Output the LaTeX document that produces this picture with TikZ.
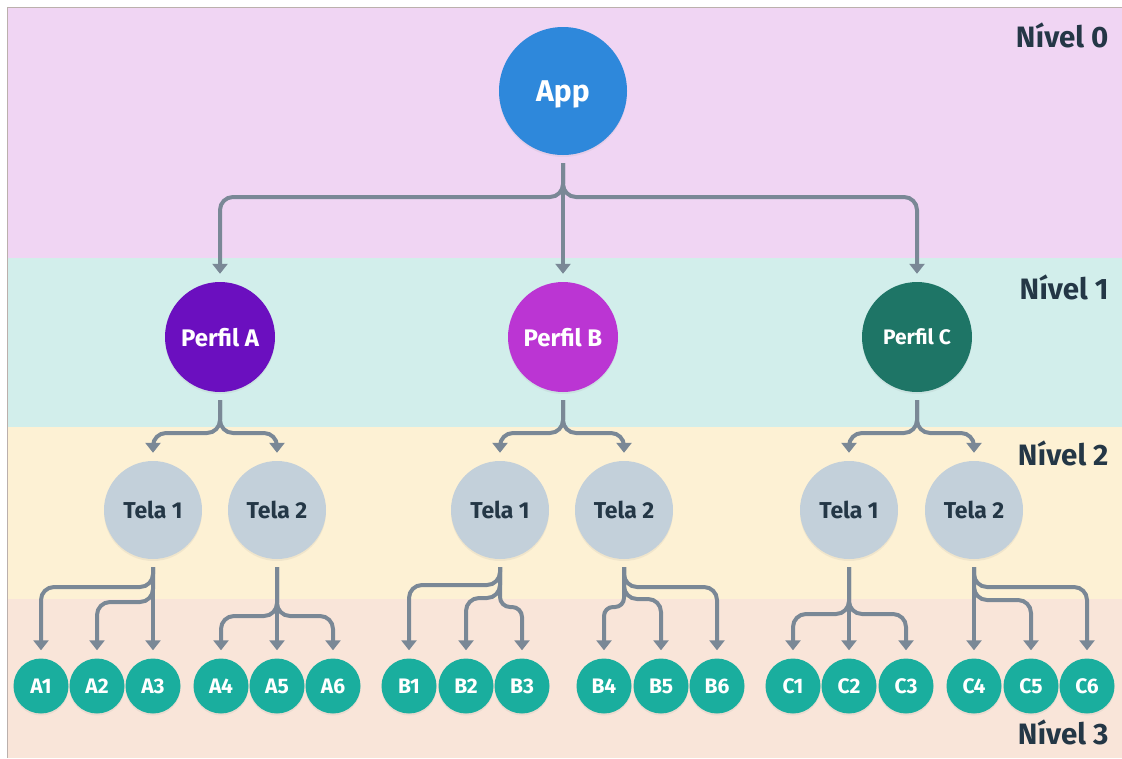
\documentclass[tikz,border=0pt]{standalone}
\usepackage{fontspec}
\setmainfont{Fira Sans}
\usetikzlibrary{arrows.meta,shadows}

\definecolor{bandzero}{HTML}{F0D5F3}
\definecolor{bandone}{HTML}{D2EEEB}
\definecolor{bandtwo}{HTML}{FDF1D4}
\definecolor{bandthree}{HTML}{F9E5D9}
\definecolor{framegray}{HTML}{BBB0AC}
\definecolor{appblue}{HTML}{2E88DB}
\definecolor{perfila}{HTML}{6B0FBF}
\definecolor{perfilb}{HTML}{BB35D3}
\definecolor{perfilc}{HTML}{1E7566}
\definecolor{telagray}{HTML}{C3D0DA}
\definecolor{leafteal}{HTML}{1AAE9E}
\definecolor{linkgray}{HTML}{7A8896}
\definecolor{textdark}{HTML}{243746}

\newcommand{\fsz}[1]{\fontsize{#1}{#1}\selectfont}

\begin{document}
\begin{tikzpicture}[x=1pt,y=-1pt,
	bubble/.style={circle,inner sep=0pt,text=white,text depth=0pt,
		drop shadow={opacity=0.10,shadow xshift=0pt,shadow yshift=-2pt}},
	perfil/.style={bubble,minimum size=110pt,font=\bfseries\fsz{24}},
	tela/.style={bubble,fill=telagray,minimum size=98pt,text=textdark,font=\bfseries\fsz{23}},
	leaf/.style={bubble,fill=leafteal,minimum size=55pt,font=\bfseries\fsz{21}},
	nivel/.style={anchor=base east,text=textdark,font=\bfseries\fsz{29.5}},
	link/.style={draw=linkgray,line width=4pt,rounded corners=13pt,
		-{Triangle[width=15pt,length=10pt]},shorten <=8pt,shorten >=8pt}]
	\useasboundingbox (0,0) rectangle (1122,758);
	% bands
	\fill[white] (0,0) rectangle (1122,758);
	\fill[bandzero] (8,8) rectangle (1122,258);
	\fill[bandone] (8,258) rectangle (1122,427);
	\fill[bandtwo] (8,427) rectangle (1122,599);
	\fill[bandthree] (8,599) rectangle (1122,758);
	\draw[framegray,line width=1pt] (7.5,758) -- (7.5,7.5) -- (1122,7.5);
	\node[nivel] (n0) at (1112,47) {Nível 0};
	\node[nivel] (n1) at (1112,299) {Nível 1};
	\node[nivel] (n2) at (1112,465) {Nível 2};
	\node[nivel] (n3) at (1112,744) {Nível 3};
	% nodes
	\node[bubble,fill=appblue,minimum size=128pt,font=\bfseries\fsz{30}] (app) at (563,91) {App};
	\node[perfil,fill=perfila] (pA) at (220,337) {Perfil A};
	\node[perfil,fill=perfilb] (pB) at (563,337) {Perfil B};
	\node[perfil,fill=perfilc,font=\bfseries\fsz{21}] (pC) at (917,337) {Perfil C};
	\node[tela] (tA1) at (153,510) {Tela 1};
	\node[tela] (tA2) at (277,510) {Tela 2};
	\node[tela] (tB1) at (500,510) {Tela 1};
	\node[tela] (tB2) at (624,510) {Tela 2};
	\node[tela] (tC1) at (849,510) {Tela 1};
	\node[tela] (tC2) at (974,510) {Tela 2};
	\foreach \name/\x in {A1/41,A2/97,A3/153,A4/221,A5/277,A6/333,
		B1/409,B2/466,B3/522,B4/604,B5/661,B6/717,
		C1/793,C2/849,C3/906,C4/974,C5/1031,C6/1087}
		\node[leaf] (\name) at (\x,686) {\name};
	% level 0 -> 1
	\draw[link] (app.south) -- (app.south |- 0,197) -| (pA.north);
	\draw[link] (app.south) -- (pB.north);
	\draw[link] (app.south) -- (app.south |- 0,197) -| (pC.north);
	% level 1 -> 2
	\draw[link] (pA.south) -- (pA.south |- 0,433) -| (tA1.north);
	\draw[link] (pA.south) -- (pA.south |- 0,433) -| (tA2.north);
	\draw[link] (pB.south) -- (pB.south |- 0,433) -| (tB1.north);
	\draw[link] (pB.south) -- (pB.south |- 0,433) -| (tB2.north);
	\draw[link] (pC.south) -- (pC.south |- 0,433) -| (tC1.north);
	\draw[link] (pC.south) -- (pC.south |- 0,433) -| (tC2.north);
	% level 2 -> 3
	\draw[link] (tA1.south) -- (tA1.south |- 0,587) -| (A1.north);
	\draw[link] (tA1.south) -- (tA1.south |- 0,602) -| (A2.north);
	\draw[link] (tA1.south) -- (A3.north);
	\draw[link] (tA2.south) -- (tA2.south |- 0,616) -| (A4.north);
	\draw[link] (tA2.south) -- (A5.north);
	\draw[link] (tA2.south) -- (tA2.south |- 0,616) -| (A6.north);
	\draw[link] (tB1.south) -- (tB1.south |- 0,585) -| (B1.north);
	\draw[link] (tB1.south) -- (tB1.south |- 0,598) -| (B2.north);
	\draw[link,rounded corners=10pt] (tB1.south) -- (tB1.south |- 0,607) -| (B3.north);
	\draw[link,rounded corners=9pt] (tB2.south) -- (tB2.south |- 0,607) -| (B4.north);
	\draw[link] (tB2.south) -- (tB2.south |- 0,599) -| (B5.north);
	\draw[link] (tB2.south) -- (tB2.south |- 0,587) -| (B6.north);
	\draw[link] (tC1.south) -- (tC1.south |- 0,614) -| (C1.north);
	\draw[link] (tC1.south) -- (C2.north);
	\draw[link] (tC1.south) -- (tC1.south |- 0,614) -| (C3.north);
	\draw[link] (tC2.south) -- (C4.north);
	\draw[link] (tC2.south) -- (tC2.south |- 0,600) -| (C5.north);
	\draw[link] (tC2.south) -- (tC2.south |- 0,587) -| (C6.north);
\end{tikzpicture}
\end{document}
